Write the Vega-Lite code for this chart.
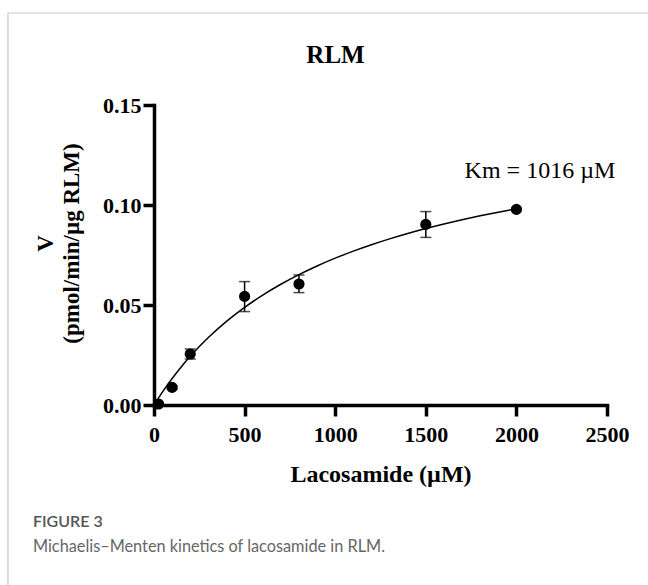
{
  "$schema": "https://vega.github.io/schema/vega-lite/v6.json",
  "autosize": {"type": "none"},
  "width": 453,
  "height": 300,
  "padding": {"left": 154, "top": 105, "right": 41, "bottom": 180},
  "background": "white",
  "title": {
    "text": "RLM",
    "orient": "top",
    "anchor": "middle",
    "frame": "group",
    "dx": -45,
    "offset": -56,
    "font": "Liberation Serif",
    "fontSize": 25,
    "fontWeight": "bold",
    "color": "black"
  },
  "datasets": {
    "obs": [
      {"s": 25, "v": 0.0005, "lo": 0.0003, "hi": 0.0007},
      {"s": 100, "v": 0.0088, "lo": 0.0080, "hi": 0.0096},
      {"s": 200, "v": 0.0255, "lo": 0.0230, "hi": 0.0280},
      {"s": 500, "v": 0.0543, "lo": 0.0467, "hi": 0.0617},
      {"s": 800, "v": 0.0605, "lo": 0.0562, "hi": 0.0650},
      {"s": 1500, "v": 0.0903, "lo": 0.0838, "hi": 0.0967},
      {"s": 2000, "v": 0.0978, "lo": 0.0972, "hi": 0.0984}
    ],
    "fit": [
      {"s": 0, "v": 0},
      {"s": 50, "v": 0.00694},
      {"s": 100, "v": 0.01326},
      {"s": 150, "v": 0.01904},
      {"s": 200, "v": 0.02434},
      {"s": 300, "v": 0.03374},
      {"s": 400, "v": 0.04181},
      {"s": 500, "v": 0.04881},
      {"s": 600, "v": 0.05495},
      {"s": 700, "v": 0.06037},
      {"s": 800, "v": 0.06520},
      {"s": 900, "v": 0.06952},
      {"s": 1000, "v": 0.07341},
      {"s": 1100, "v": 0.07694},
      {"s": 1200, "v": 0.08014},
      {"s": 1300, "v": 0.08307},
      {"s": 1400, "v": 0.08576},
      {"s": 1500, "v": 0.08824},
      {"s": 1600, "v": 0.09052},
      {"s": 1700, "v": 0.09264},
      {"s": 1800, "v": 0.09460},
      {"s": 1900, "v": 0.09643},
      {"s": 2000, "v": 0.09814}
    ],
    "notes": [
      {"label": "Km = 1016 µM"}
    ],
    "caption1": [{"label": "FIGURE 3"}],
    "caption2": [{"label": "Michaelis–Menten kinetics of lacosamide in RLM."}]
  },
  "layer": [
    {
      "data": {"name": "fit"},
      "mark": {"type": "line", "color": "black", "strokeWidth": 1.5, "interpolate": "monotone"},
      "encoding": {
        "x": {
          "field": "s", "type": "quantitative",
          "scale": {"domain": [0, 2500], "nice": false},
          "axis": {
            "title": "Lacosamide (µM)",
            "values": [0, 500, 1000, 1500, 2000, 2500],
            "format": "d",
            "labelPadding": 8,
            "titlePadding": 17
          }
        },
        "y": {
          "field": "v", "type": "quantitative",
          "scale": {"domain": [0, 0.15], "nice": false},
          "axis": {
            "title": ["V", "(pmol/min/µg RLM)"],
            "values": [0, 0.05, 0.1, 0.15],
            "format": ".2f",
            "titleY": 138,
            "titlePadding": 19,
            "titleLineHeight": 26
          }
        }
      }
    },
    {
      "data": {"name": "notes"},
      "mark": {"type": "rect", "fill": null, "fillOpacity": 0, "stroke": "#c8c8c8", "strokeWidth": 1.2},
      "encoding": {
        "x": {"datum": -806, "type": "quantitative"},
        "x2": {"datum": 3200},
        "y": {"datum": 0.196, "type": "quantitative"},
        "y2": {"datum": -0.3}
      }
    },
    {
      "data": {"name": "obs"},
      "mark": {"type": "rule", "color": "black", "strokeWidth": 1.5},
      "encoding": {
        "x": {"field": "s", "type": "quantitative"},
        "y": {"field": "lo", "type": "quantitative"},
        "y2": {"field": "hi"}
      }
    },
    {
      "data": {"name": "obs"},
      "mark": {"type": "tick", "color": "black", "orient": "horizontal", "size": 11, "thickness": 1.5},
      "encoding": {
        "x": {"field": "s", "type": "quantitative"},
        "y": {"field": "lo", "type": "quantitative"}
      }
    },
    {
      "data": {"name": "obs"},
      "mark": {"type": "tick", "color": "black", "orient": "horizontal", "size": 11, "thickness": 1.5},
      "encoding": {
        "x": {"field": "s", "type": "quantitative"},
        "y": {"field": "hi", "type": "quantitative"}
      }
    },
    {
      "data": {"name": "obs"},
      "mark": {"type": "point", "filled": true, "shape": "circle", "color": "black", "opacity": 1, "size": 125},
      "encoding": {
        "x": {"field": "s", "type": "quantitative"},
        "y": {"field": "v", "type": "quantitative"}
      }
    },
    {
      "data": {"name": "notes"},
      "mark": {"type": "text", "font": "Liberation Serif", "fontSize": 24, "color": "black", "align": "center", "baseline": "alphabetic"},
      "encoding": {
        "x": {"datum": 2130, "type": "quantitative"},
        "y": {"datum": 0.1135, "type": "quantitative"},
        "text": {"field": "label"}
      }
    },
    {
      "data": {"name": "caption1"},
      "mark": {"type": "text", "font": "Lato", "fontSize": 16, "fontWeight": 600, "color": "#555555", "align": "left", "baseline": "alphabetic"},
      "encoding": {
        "x": {"datum": -668, "type": "quantitative"},
        "y": {"datum": -0.061, "type": "quantitative"},
        "text": {"field": "label"}
      }
    },
    {
      "data": {"name": "caption2"},
      "mark": {"type": "text", "font": "Lato", "fontSize": 16.3, "color": "#666666", "align": "left", "baseline": "alphabetic"},
      "encoding": {
        "x": {"datum": -668, "type": "quantitative"},
        "y": {"datum": -0.0735, "type": "quantitative"},
        "text": {"field": "label"}
      }
    }
  ],
  "config": {
    "view": {"stroke": null},
    "axis": {
      "grid": false,
      "domainColor": "black",
      "domainWidth": 3.5,
      "domainCap": "square",
      "tickColor": "black",
      "tickWidth": 3.5,
      "tickSize": 11,
      "labelFont": "Liberation Serif",
      "labelFontSize": 22,
      "labelFontWeight": "bold",
      "labelColor": "black",
      "labelPadding": 2,
      "labelFlush": false,
      "labelOverlap": false,
      "titleFont": "Liberation Serif",
      "titleFontSize": 23,
      "titleFontWeight": "bold",
      "titleColor": "black"
    },
    "axisX": {"titleFontSize": 24}
  }
}
